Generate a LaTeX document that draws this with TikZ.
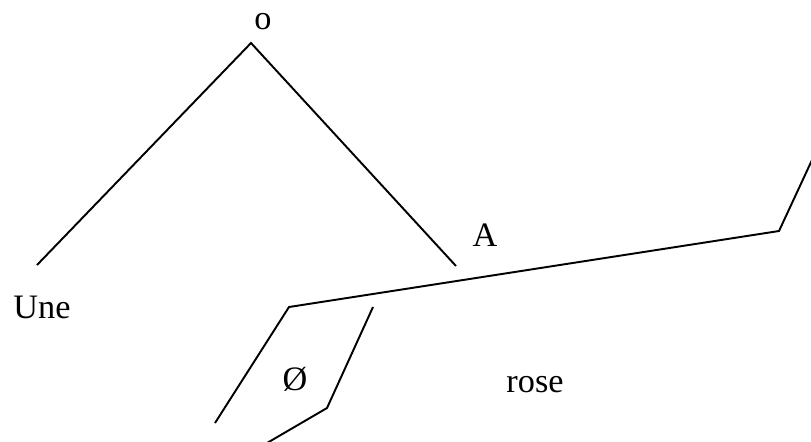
\documentclass[tikz,border=0pt]{standalone}
\usepackage{fontspec}
\setmainfont{Liberation Serif}
\usepackage{tikz}

\begin{document}
\begin{tikzpicture}[
    x=0.02cm, y=-0.02cm,
    every node/.style={font=\fontsize{19.5}{23}\selectfont},
    word/.style={anchor=base, inner sep=0pt},
    stroke/.style={line width=1.1pt, line join=miter},
]
\useasboundingbox (0,0) rectangle (811,441);

% --- Labels ---
\node[word] (top)  at (263,29)  {o};
\node[word] (a)    at (485,246) {A};
\node[word] (une)  at (42,318)  {Une};
\node[word] (null) at (295,390) {Ø};
\node[word] (rose) at (535,392) {rose};

% --- Line ends ---
\coordinate (apex)   at (251,43);
\coordinate (uneend) at (37,265);
\coordinate (aend)   at (456,266);
\coordinate (lowl)   at (289,307);
\coordinate (farr)   at (779,231);
\coordinate (edger)  at (812,160);
\coordinate (lowb)   at (215,423);
\coordinate (innt)   at (373,307);
\coordinate (innb)   at (327,408);
\coordinate (edgeb)  at (267,443);

% --- Strokes ---
\draw[stroke] (uneend) -- (apex) -- (aend);
\draw[stroke] (lowb) -- (lowl) -- (farr) -- (edger);
\draw[stroke] (innt) -- (innb) -- (edgeb);

\end{tikzpicture}
\end{document}
